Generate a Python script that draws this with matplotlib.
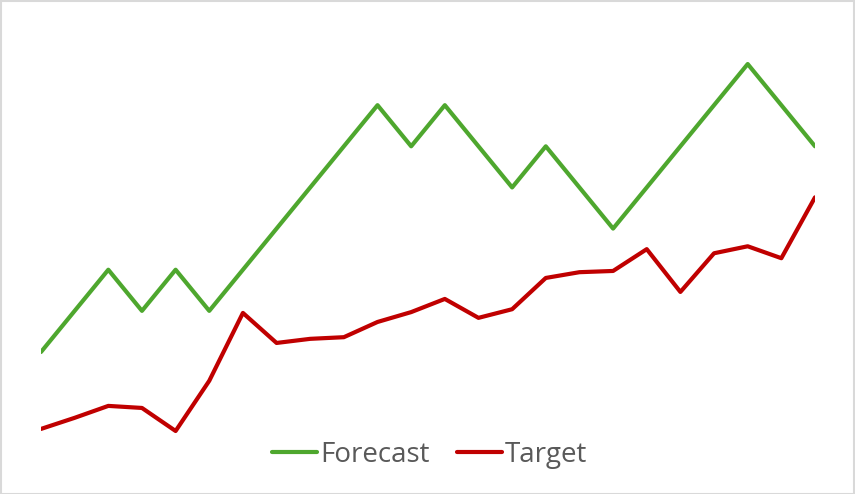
import matplotlib.pyplot as plt
from matplotlib.patches import Rectangle

# values (arbitrary units)
periods = list(range(24))
forecast = [50, 60, 70, 60, 70, 60, 70, 80, 90, 100, 110, 100,
            110, 100, 90, 100, 90, 80, 90, 100, 110, 120, 110, 100]
target = [31.3, 34.0, 36.9, 36.4, 30.8, 43.0, 59.5, 52.2, 53.2, 53.6, 57.3, 59.7,
          62.9, 58.3, 60.4, 68.0, 69.4, 69.7, 75.0, 64.6, 74.0, 75.7, 72.8, 87.6]

W, H = 855, 494
fig = plt.figure(figsize=(W / 100, H / 100), dpi=100)
fig.add_artist(Rectangle((0.5 / W, 0.5 / H), 1 - 2 / W, 1 - 2 / H, transform=fig.transFigure,
                         fill=False, edgecolor='#D9D9D9', linewidth=1.5))

ax = fig.add_axes([41 / W, (H - 440) / H, 774 / W, 400 / H])
ax.plot(periods, forecast, color='#4EA72E', linewidth=3, label='Forecast',
        solid_joinstyle='round', solid_capstyle='round')
ax.plot(periods, target, color='#C00000', linewidth=3, label='Target',
        solid_joinstyle='round', solid_capstyle='round')
ax.set_xlim(0, 23)
ax.set_ylim(28.61, 125.84)
ax.axis('off')

fig.legend(loc='center', bbox_to_anchor=(430 / W, 1 - 455 / H), ncol=2, frameon=False,
           prop={'family': 'Open Sans', 'size': 20}, labelcolor='#595959',
           handlelength=1.6, handletextpad=0.12, columnspacing=1.0)

fig.savefig('out.png', dpi=100)
